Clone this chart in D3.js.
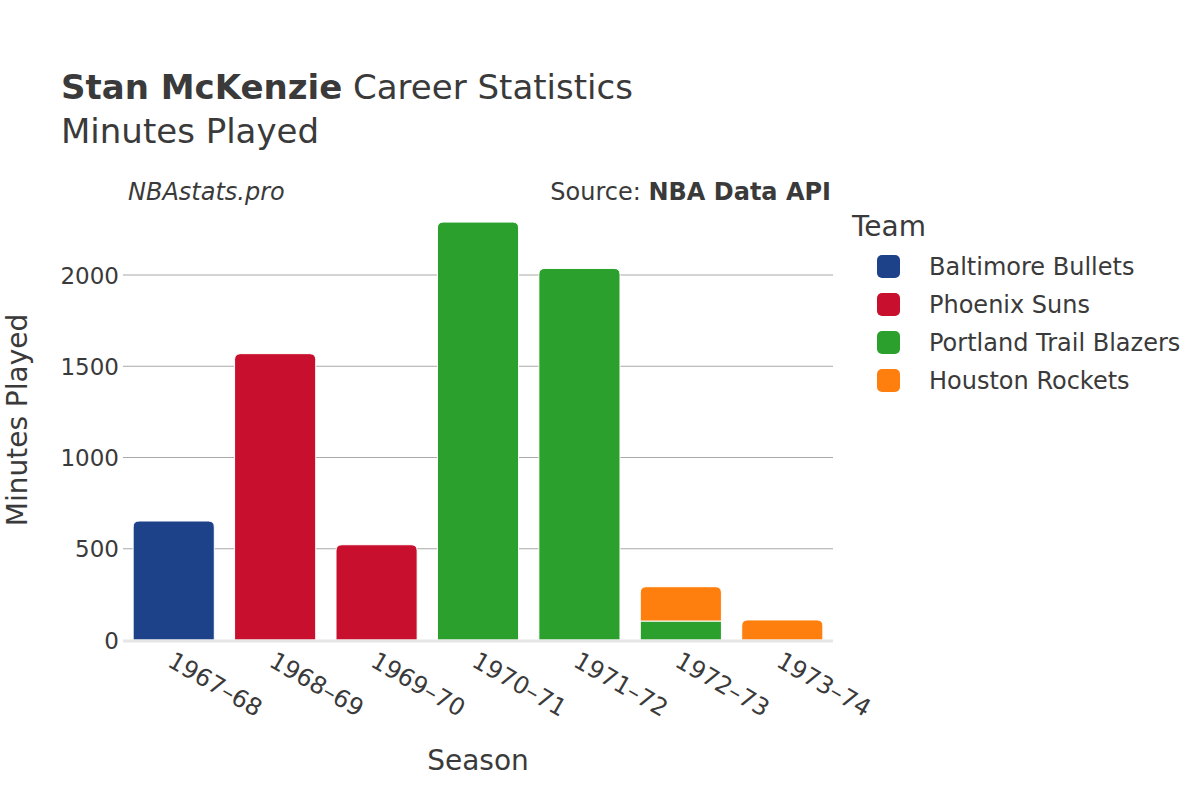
<!DOCTYPE html>
<html>
<head>
<meta charset="utf-8">
<script src="https://cdn.jsdelivr.net/npm/d3@7"></script>
<style>
  body { margin: 0; background: #fff; }
  text { font-family: "DejaVu Sans", sans-serif; fill: #3a3a3a; }
</style>
</head>
<body>
<div class="chart"></div>
<script>
var seasons = ["1967–68", "1968–69", "1969–70", "1970–71", "1971–72", "1972–73", "1973–74"];
var teams = ["Baltimore Bullets", "Phoenix Suns", "Portland Trail Blazers", "Houston Rockets"];
var teamColors = ["#1d428a", "#c8102e", "#2ca02c", "#ff7f0e"];

// minutes per season, one array per team
var baltimore = [652, 0, 0, 0, 0, 0, 0];
var phoenix = [0, 1569, 522, 0, 0, 0, 0];
var portland = [0, 0, 0, 2290, 2036, 104, 0];
var houston = [0, 0, 0, 0, 0, 188, 110];

var yTicks = [0, 500, 1000, 1500, 2000];

function minutesChart() {

    var width = 1200,
        height = 800;

    var plot = { left: 123, right: 833, top: 230, bottom: 640 };

    var svg = d3.select('.chart')
        .append('svg')
        .attr("width", width)
        .attr("height", height);

    var rows = seasons.map(function(s, i) {
        return {
            season: s,
            "Baltimore Bullets": baltimore[i],
            "Phoenix Suns": phoenix[i],
            "Portland Trail Blazers": portland[i],
            "Houston Rockets": houston[i]
        };
    });

    var x = d3.scaleBand().domain(seasons).range([plot.left, plot.right])
        .paddingInner(0.2).paddingOuter(0.1);
    var y = d3.scaleLinear().domain([0, 2000]).range([plot.bottom, 275]);
    var color = d3.scaleOrdinal().domain(teams).range(teamColors);

    // gridlines
    svg.append("g")
        .selectAll("line")
        .data(yTicks.filter(function(d) { return d > 0; }))
        .enter().append("line")
        .attr("x1", plot.left).attr("x2", plot.right)
        .attr("y1", function(d) { return y(d); })
        .attr("y2", function(d) { return y(d); })
        .attr("stroke", "#a8a8a8")
        .attr("stroke-width", 1);

    var yAxis = d3.axisLeft(y).tickValues(yTicks).tickSize(0).tickPadding(4).tickFormat(d3.format("d"));
    var gy = svg.append("g")
        .attr("transform", "translate(" + plot.left + ",0)")
        .call(yAxis);
    gy.select(".domain").remove();
    gy.selectAll("text").style("font-size", "23px").attr("fill", "#3a3a3a").attr("dy", "0.35em");

    // stacked bars
    var series = d3.stack().keys(teams)(rows);
    var r = 6;

    function topRounded(x0, y0, w, h) {
        var rr = Math.min(r, h, w / 2);
        return "M" + x0 + "," + (y0 + h) +
            "V" + (y0 + rr) +
            "Q" + x0 + "," + y0 + " " + (x0 + rr) + "," + y0 +
            "H" + (x0 + w - rr) +
            "Q" + (x0 + w) + "," + y0 + " " + (x0 + w) + "," + (y0 + rr) +
            "V" + (y0 + h) + "Z";
    }

    var topKey = rows.map(function(row) {
        var k = null;
        teams.forEach(function(t) { if (row[t] > 0) k = t; });
        return k;
    });

    series.forEach(function(s) {
        svg.append("g")
            .selectAll("path")
            .data(s.filter(function(d) { return d[1] - d[0] > 0; }))
            .enter().append("path")
            .attr("fill", color(s.key))
            .attr("stroke", "#fff")
            .attr("stroke-width", 1)
            .attr("d", function(d) {
                var i = seasons.indexOf(d.data.season);
                var x0 = x(d.data.season), w = x.bandwidth();
                var y0 = y(d[1]), h = y(d[0]) - y(d[1]);
                if (topKey[i] === s.key) return topRounded(x0, y0, w, h);
                return "M" + x0 + "," + (y0 + h) + "V" + y0 + "H" + (x0 + w) + "V" + (y0 + h) + "Z";
            });
    });

    // zero line
    svg.append("line")
        .attr("x1", plot.left).attr("x2", plot.right)
        .attr("y1", y(0) + 1).attr("y2", y(0) + 1)
        .attr("stroke", "#e6e6e6")
        .attr("stroke-width", 3);

    // x axis labels
    var xAxis = d3.axisBottom(x).tickSize(0).tickPadding(0);
    var gx = svg.append("g")
        .attr("transform", "translate(0," + plot.bottom + ")")
        .call(xAxis);
    gx.select(".domain").remove();
    gx.selectAll("text")
        .style("font-size", "24px")
        .attr("fill", "#3a3a3a")
        .attr("text-anchor", "start")
        .attr("y", 0)
        .attr("dy", "0.7em")
        .attr("transform", "translate(1,11) rotate(30)");

    // titles
    var title = svg.append("text").attr("x", 61).attr("y", 99).style("font-size", "34px");
    title.append("tspan").attr("font-weight", "bold").text("Stan McKenzie");
    title.append("tspan").text(" Career Statistics");

    svg.append("text").attr("x", 61).attr("y", 143).style("font-size", "34px").text("Minutes Played");

    svg.append("text").attr("x", 128).attr("y", 200)
        .style("font-size", "24px").style("font-style", "italic")
        .text("NBAstats.pro");

    var src = svg.append("text").attr("x", 831).attr("y", 200)
        .attr("text-anchor", "end").style("font-size", "24px");
    src.append("tspan").text("Source: ");
    src.append("tspan").attr("font-weight", "bold").text("NBA Data API");

    svg.append("text").attr("x", 478).attr("y", 770)
        .attr("text-anchor", "middle").style("font-size", "28px").text("Season");

    svg.append("text")
        .attr("transform", "translate(27," + 420 + ") rotate(-90)")
        .attr("text-anchor", "middle").style("font-size", "28px").text("Minutes Played");

    // legend
    var legend = svg.append("g").attr("transform", "translate(852,0)");
    legend.append("text").attr("x", 0).attr("y", 236).style("font-size", "28px").text("Team");

    var items = legend.selectAll("g.item")
        .data(teams)
        .enter().append("g")
        .attr("class", "item")
        .attr("transform", function(d, i) { return "translate(0," + (266 + i * 38) + ")"; });

    items.append("rect")
        .attr("x", 25).attr("y", -11)
        .attr("width", 23).attr("height", 23)
        .attr("rx", 5)
        .attr("fill", function(d) { return color(d); });

    items.append("text")
        .attr("x", 77).attr("y", 1).attr("dy", "0.35em")
        .style("font-size", "24px")
        .text(function(d) { return d; });
}

minutesChart();
</script>
</body>
</html>
